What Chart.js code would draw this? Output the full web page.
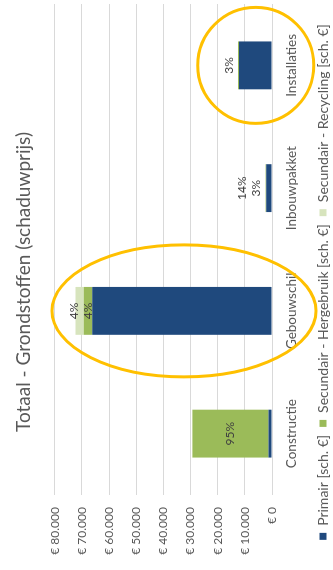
<!DOCTYPE html>
<html>
<head>
<meta charset="utf-8">
<script src="https://cdn.jsdelivr.net/npm/chart.js@4.4.1/dist/chart.umd.min.js"></script>
<style>
  html, body { margin: 0; padding: 0; background: #fff; overflow: hidden; }
  #wrap {
    position: absolute; left: 0; top: 0; width: 570px; height: 345px;
    transform-origin: 0 0; transform: translateY(570px) rotate(-90deg);
  }
</style>
</head>
<body>
<div id="wrap"><canvas id="grafico" width="570" height="345"></canvas></div>
<script>
const categorias = ["Constructie", "Gebouwschil", "Inbouwpakket", "Installaties"];
const primair = [1250, 66200, 2140, 12150];
const hergebruik = [28000, 3100, 80, 380];
const recycling = [250, 3060, 360, 0];
const labelsPrimair = ["", "", "", ""];
const labelsHergebruik = ["95%", "4%", "3%", "3%"];
const labelsRecycling = ["", "4%", "14%", ""];
const yMax = 80000;
const yStap = 10000;

// markeringen (gele ellipsen) rond twee categorieën
const markeringen = [
  { categorie: 1, waarde: 32400, rVert: 132, rHor: 66 },
  { categorie: 3, waarde: 6000, rVert: 58, rHor: 58 },
];

const fontNaam = "Lato, 'Open Sans', sans-serif";
const grijs = "#595959";

function euro(v) {
  return "€ " + String(v).replace(/\B(?=(\d{3})+(?!\d))/g, ".");
}

// percentages in het segment, kleine segmenten schuiven naar boven
const labelPlugin = {
  id: "segmentLabels",
  afterDatasetsDraw(chart) {
    const ctx = chart.ctx;
    const alleLabels = chart.data.datasets.map(d => d.segLabels || []);
    ctx.save();
    ctx.font = "12px " + fontNaam;
    ctx.fillStyle = "#404040";
    ctx.textAlign = "center";
    ctx.textBaseline = "middle";
    categorias.forEach((_, i) => {
      let top = Infinity;
      chart.data.datasets.forEach((d, di) => {
        const el = chart.getDatasetMeta(di).data[i];
        if (el) top = Math.min(top, el.y);
      });
      let vorige = Infinity;
      chart.data.datasets.forEach((d, di) => {
        const tekst = alleLabels[di][i];
        if (!tekst) return;
        const el = chart.getDatasetMeta(di).data[i];
        const lengte = el.base - el.y;
        let pos = (el.y + el.base) / 2;
        if (lengte < 3) pos = Math.min(pos, top - 9);
        pos = Math.min(pos, vorige - 14);
        ctx.fillText(tekst, el.x, pos);
        vorige = pos;
      });
    });
    ctx.restore();
  },
};

const ellipsPlugin = {
  id: "ellipsen",
  afterDraw(chart) {
    const ctx = chart.ctx;
    const xs = chart.scales.x, ys = chart.scales.y;
    ctx.save();
    ctx.strokeStyle = "#FFC000";
    ctx.lineWidth = 3;
    markeringen.forEach(m => {
      ctx.beginPath();
      ctx.ellipse(xs.getPixelForValue(m.categorie), ys.getPixelForValue(m.waarde), m.rHor, m.rVert, 0, 0, Math.PI * 2);
      ctx.stroke();
    });
    ctx.restore();
  },
};

new Chart(document.getElementById("grafico").getContext("2d"), {
  type: "bar",
  data: {
    labels: categorias,
    datasets: [
      { label: "Primair [sch. €]", data: primair, backgroundColor: "#1F497D", segLabels: labelsPrimair },
      { label: "Secundair - Hergebruik [sch. €]", data: hergebruik, backgroundColor: "#9BBB59", segLabels: labelsHergebruik },
      { label: "Secundair - Recycling [sch. €]", data: recycling, backgroundColor: "#D7E4BD", segLabels: labelsRecycling },
    ],
  },
  plugins: [labelPlugin, ellipsPlugin],
  options: {
    responsive: false,
    animation: false,
    devicePixelRatio: 1,
    layout: { padding: { left: 10, right: 4, top: 0, bottom: 5 } },
    datasets: { bar: { categoryPercentage: 1, barPercentage: 0.39 } },
    plugins: {
      tooltip: { enabled: false },
      title: {
        display: true,
        text: "Totaal - Grondstoffen (schaduwprijs)",
        color: grijs,
        font: { family: fontNaam, size: 19, weight: "normal" },
        padding: { top: 12, bottom: 20 },
      },
      legend: {
        position: "bottom",
        labels: {
          color: grijs,
          font: { family: fontNaam, size: 14 },
          boxWidth: 7,
          boxHeight: 7,
          padding: 8,
        },
      },
    },
    scales: {
      x: {
        stacked: true,
        grid: { display: false, drawTicks: false },
        border: { display: false },
        afterFit(scale) { scale.height = 36; },
        ticks: { color: grijs, font: { family: fontNaam, size: 13.5 }, padding: 12, maxRotation: 0 },
      },
      y: {
        stacked: true,
        min: 0,
        max: yMax,
        grid: { color: "#D9D9D9", drawTicks: false },
        border: { display: false },
        afterFit(scale) { scale.width = 65; },
        ticks: {
          stepSize: yStap,
          color: grijs,
          padding: 12,
          font: { family: fontNaam, size: 12 },
          callback: v => euro(v),
        },
      },
    },
  },
});
</script>
</body>
</html>
